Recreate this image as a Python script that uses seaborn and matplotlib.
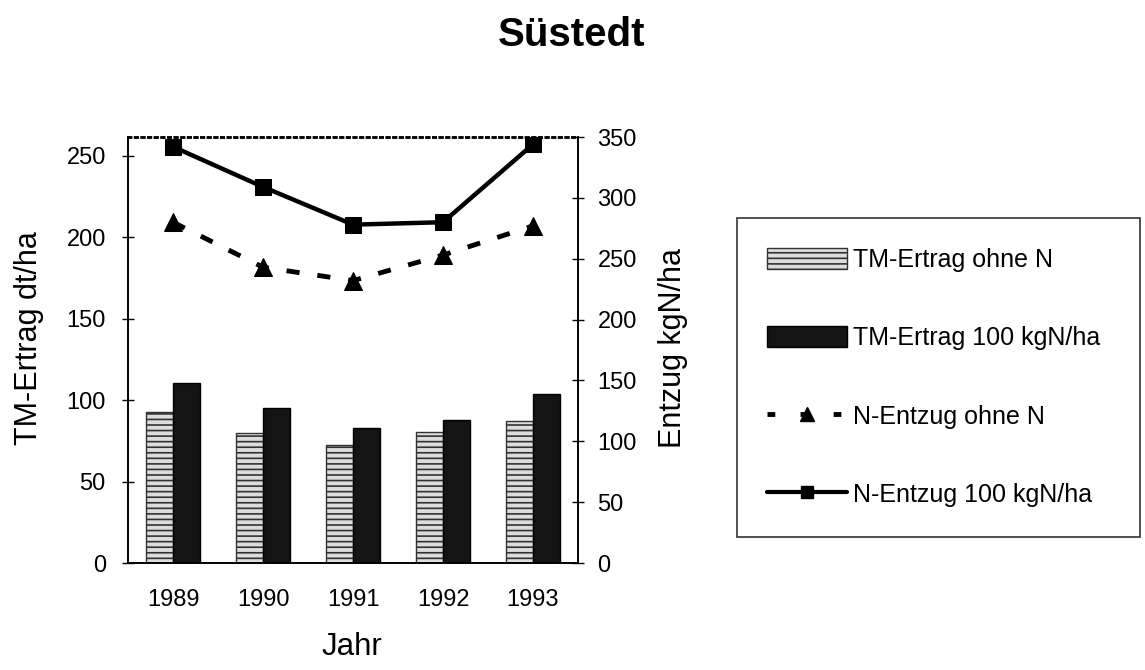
import matplotlib
matplotlib.use("Agg")
import matplotlib.pyplot as plt
import seaborn as sns
import pandas as pd
import numpy as np
from matplotlib.patches import Patch
from matplotlib.lines import Line2D

years = ["1989", "1990", "1991", "1992", "1993"]
tm_ohne = [93, 79.5, 72.5, 80.5, 87]
tm_100 = [110.5, 95, 83, 88, 103.5]
n_ohne = [280, 243, 232, 253, 277]
n_100 = [342, 309, 278, 280, 344]
series_bar = ["TM-Ertrag ohne N", "TM-Ertrag 100 kgN/ha"]
series_line = ["N-Entzug ohne N", "N-Entzug 100 kgN/ha"]

sns.set_style("white")
plt.rcParams['font.family'] = ['Liberation Sans', 'DejaVu Sans']
plt.rcParams['text.color'] = 'black'
plt.rcParams['axes.labelcolor'] = 'black'
plt.rcParams['xtick.color'] = 'black'
plt.rcParams['ytick.color'] = 'black'
plt.rcParams['hatch.color'] = '#555555'
plt.rcParams['hatch.linewidth'] = 1.2

fig = plt.figure(figsize=(11.45, 6.7), dpi=100)
ax = fig.add_axes([0.1118, 0.1597, 0.3930, 0.6358])

df = pd.DataFrame({
    "Jahr": years * 2,
    "val": tm_ohne + tm_100,
    "serie": [series_bar[0]] * 5 + [series_bar[1]] * 5,
})
sns.barplot(data=df, x="Jahr", y="val", hue="serie", ax=ax,
            palette=["#dcdcdc", "#141414"], width=0.6, gap=0,
            edgecolor="black", linewidth=1, legend=False, saturation=1)
for p in ax.patches[:5]:
    p.set_hatch("---")
    p.set_edgecolor("#333333")

ax.set_xlim(-0.5, 4.5)
ax.set_ylim(0, 261.5)
ax.set_yticks([0, 50, 100, 150, 200, 250])
ax.set_xticks(range(5))
ax.set_xticklabels(years)
ax.set_xticks(np.arange(-0.5, 5, 1), minor=True)
ax.tick_params(axis="x", which="major", length=0, labelsize=17, pad=19)
ax.tick_params(axis="x", which="minor", length=8, width=1, direction="inout", color="black")
ax.tick_params(axis="y", length=8, width=1, direction="inout", labelsize=17, color="black",
               left=True, pad=12)
ax.set_xlabel("")
ax.set_ylabel("TM-Ertrag dt/ha", fontsize=22)
ax.yaxis.set_label_coords(-0.186, 0.528)

ax2 = ax.twinx()
ld = pd.DataFrame({"x": list(range(5)) * 2, "y": n_ohne + n_100,
                   "serie": [series_line[0]] * 5 + [series_line[1]] * 5})
sns.lineplot(data=ld[ld.serie == series_line[0]], x="x", y="y", ax=ax2,
             color="black", linewidth=3.5, linestyle=(0, (2.7, 3.7)),
             marker="^", markersize=13, markeredgecolor="black", legend=False)
sns.lineplot(data=ld[ld.serie == series_line[1]], x="x", y="y", ax=ax2,
             color="black", linewidth=3.2, marker="s", markersize=11,
             markeredgecolor="black", legend=False)
ax2.set_ylim(0, 350)
ax2.set_xlim(-0.5, 4.5)
ax2.set_yticks([0, 50, 100, 150, 200, 250, 300, 350])
ax2.tick_params(axis="y", length=8, width=1, direction="inout", labelsize=17, color="black",
                right=True, pad=10)
ax2.set_ylabel("Entzug kgN/ha", fontsize=22)
ax2.yaxis.set_label_coords(1.178, 0.505)
ax2.set_xlabel("")

for a in (ax, ax2):
    for s in ["left", "right", "bottom"]:
        a.spines[s].set_color("black")
        a.spines[s].set_linewidth(1.2)
    a.spines["top"].set_linestyle(":")
    a.spines["top"].set_color("black")
    a.spines["top"].set_linewidth(1.8)

fig.text(0.499, 0.948, "Süstedt", fontsize=29, fontweight="bold", ha="center", va="center")
fig.text(0.3074, 0.022, "Jahr", fontsize=22.5, ha="center", va="baseline")

handles = [
    Patch(facecolor="#dcdcdc", edgecolor="#333333", hatch="---", label=series_bar[0]),
    Patch(facecolor="#141414", edgecolor="black", label=series_bar[1]),
    Line2D([0], [0], color="black", linewidth=3.5, linestyle=(0, (1.6, 5.2)), marker="^",
           markersize=10, label=series_line[0]),
    Line2D([0], [0], color="black", linewidth=3, marker="s", markersize=9, label=series_line[1]),
]
leg = fig.legend(handles=handles, loc="upper left", bbox_to_anchor=(0.6437, 0.6746, 0.352, 0.0),
                 mode="expand", fontsize=18, frameon=True, fancybox=False, edgecolor="black",
                 handlelength=3.2, handleheight=0.9, labelspacing=2.17, handletextpad=0.25,
                 borderpad=1.2, borderaxespad=0)
leg.get_frame().set_linewidth(1.2)

fig.savefig("out.png", dpi=100)
